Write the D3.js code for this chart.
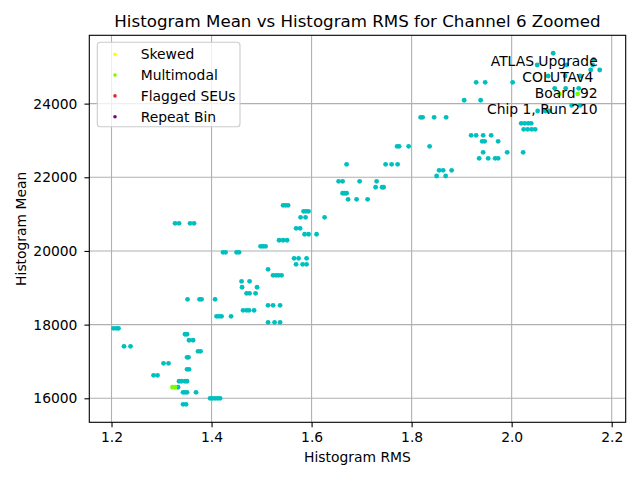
<!DOCTYPE html>
<html>
<head>
<meta charset="utf-8">
<script src="https://cdn.jsdelivr.net/npm/d3@7/dist/d3.min.js"></script>
<style>
  body { margin: 0; background: #fff; }
  svg { display: block; font-family: "DejaVu Sans", sans-serif; }
  .tick text { font-size: 13.89px; fill: #000; }
  .tick line { stroke: #000; stroke-width: 1.1; }
</style>
</head>
<body>
<svg width="640" height="480"></svg>
<script>
"use strict";

const title = "Histogram Mean vs Histogram RMS for Channel 6 Zoomed";
const xAxisLabel = "Histogram RMS";
const yAxisLabel = "Histogram Mean";
const infoLines = ["ATLAS Upgrade", "COLUTAv4\u00a0", "Board 92", "Chip 1, Run 210"];

const xTicks = [1.2, 1.4, 1.6, 1.8, 2.0, 2.2];
const yTicks = [16000, 18000, 20000, 22000, 24000];

const legendLabels = ["Skewed", "Multimodal", "Flagged SEUs", "Repeat Bin"];
const legendColors = ["#ffff00", "#7cfc00", "#e8282c", "#800080"];

// plain (cyan) channels, grouped by histogram mean level
const meanLevels = [
  25367, 25204, 25049, 24913, 24750, 24579, 24416, 24091, 23950, 23800,
  23629, 23466, 23303, 23140, 22977, 22842, 22679, 22516, 22353, 22190,
  22035, 21891, 21729, 21566, 21403, 21240, 21077, 20914, 20751, 20615,
  20453, 20290, 20127, 19964, 19801, 19638, 19502, 19339, 19176, 19014,
  18851, 18688, 18525, 18389, 18226, 18063, 17900, 17738, 17575, 17412,
  17276, 17113, 16950, 16787, 16624, 16462, 16299, 16163, 16000, 15837
];
const rmsByLevel = [
  [2.083], [2.164], [2.051, 2.11, 2.162], [2.158, 2.176], [2.073, 2.107, 2.137],
  [1.929, 1.947, 2.002], [2.086, 2.108, 2.134], [1.905, 1.938], [2.12, 2.137],
  [2.052, 2.067, 2.075],
  [1.818, 1.822, 1.845, 1.869], [2.019, 2.026, 2.033, 2.039],
  [2.024, 2.032, 2.04, 2.047], [1.919, 1.929, 1.943, 1.959], [1.941, 1.946, 1.973],
  [1.771, 1.775, 1.794, 1.836], [1.943, 1.991, 2.023], [1.935, 1.953, 1.967, 1.973],
  [1.67, 1.748, 1.76, 1.772], [1.855, 1.863, 1.88],
  [1.85, 1.868], [1.654, 1.662, 1.696, 1.73], [1.728, 1.741, 1.744],
  [1.662, 1.666, 1.67], [1.673, 1.69, 1.712], [1.543, 1.548, 1.553],
  [1.584, 1.589, 1.594], [1.578, 1.588, 1.626], [1.327, 1.335, 1.357, 1.365],
  [1.569, 1.577],
  [1.586, 1.594, 1.61], [1.535, 1.543, 1.551], [1.498, 1.503, 1.508],
  [1.423, 1.428, 1.45, 1.455], [1.565, 1.574, 1.59], [1.569, 1.582, 1.59],
  [1.513], [1.523, 1.529, 1.534, 1.54], [1.46, 1.476], [1.461, 1.491],
  [1.47, 1.476, 1.488], [1.352, 1.376, 1.38, 1.407], [1.513, 1.523, 1.537],
  [1.463, 1.47, 1.475, 1.485], [1.41, 1.415, 1.42, 1.439], [1.513, 1.526, 1.537],
  [1.204, 1.21, 1.214], [1.347, 1.351], [1.355, 1.363], [1.225, 1.238],
  [1.373, 1.378], [1.351, 1.354], [1.304, 1.314], [1.351, 1.355], [1.284, 1.292],
  [1.335, 1.34, 1.347, 1.351], [1.333], [1.343, 1.347, 1.351, 1.369],
  [1.397, 1.402, 1.407, 1.412, 1.417], [1.343, 1.349]
];

const multimodalRms = [2.095, 2.132, 1.322, 1.327];
const multimodalMean = [24262, 24262, 16299, 16299];

const svg = d3.select("svg");
const width = +svg.attr("width");
const height = +svg.attr("height");

const margin = { top: 35.3, right: 14.3, bottom: 57.7, left: 89.3 };
const innerWidth = width - margin.left - margin.right;
const innerHeight = height - margin.top - margin.bottom;
const fontSize = "13.89px";

const plainPoints = [];
meanLevels.forEach((m, i) => {
  rmsByLevel[i].forEach(r => plainPoints.push({ rms: r, mean: m }));
});
const multiPoints = multimodalRms.map((r, i) => ({ rms: r, mean: multimodalMean[i] }));

const xScale = d3.scaleLinear().domain([1.1556, 2.228]).range([0, innerWidth]);
const yScale = d3.scaleLinear().domain([15348, 25855]).range([innerHeight, 0]);

const g = svg.append("g").attr("transform", `translate(${margin.left},${margin.top})`);

// grid
g.append("g")
  .selectAll("line")
  .data(xTicks)
  .enter()
  .append("line")
  .attr("x1", d => xScale(d))
  .attr("x2", d => xScale(d))
  .attr("y1", 0)
  .attr("y2", innerHeight)
  .attr("stroke", "#b0b0b0")
  .attr("stroke-width", 1.1);

g.append("g")
  .selectAll("line")
  .data(yTicks)
  .enter()
  .append("line")
  .attr("x1", 0)
  .attr("x2", innerWidth)
  .attr("y1", d => yScale(d))
  .attr("y2", d => yScale(d))
  .attr("stroke", "#b0b0b0")
  .attr("stroke-width", 1.1);

const xAxisG = g
  .append("g")
  .attr("transform", `translate(0,${innerHeight})`)
  .call(
    d3.axisBottom(xScale)
      .tickValues(xTicks)
      .tickSize(4.86)
      .tickPadding(5)
      .tickFormat(d3.format(".1f"))
  );
xAxisG.select(".domain").remove();
xAxisG.selectAll(".tick text").attr("font-family", "DejaVu Sans");

const yAxisG = g
  .append("g")
  .call(
    d3.axisLeft(yScale)
      .tickValues(yTicks)
      .tickSize(4.86)
      .tickPadding(7)
      .tickFormat(d3.format("d"))
  );
yAxisG.select(".domain").remove();
yAxisG.selectAll(".tick text").attr("font-family", "DejaVu Sans");

// points
g.append("g")
  .selectAll("circle")
  .data(plainPoints)
  .enter()
  .append("circle")
  .attr("cx", d => xScale(d.rms))
  .attr("cy", d => yScale(d.mean))
  .attr("r", 2.4)
  .attr("fill", "#00bfbf");

g.append("g")
  .selectAll("circle")
  .data(multiPoints)
  .enter()
  .append("circle")
  .attr("cx", d => xScale(d.rms))
  .attr("cy", d => yScale(d.mean))
  .attr("r", 2.4)
  .attr("fill", legendColors[1]);

// frame
g.append("rect")
  .attr("width", innerWidth)
  .attr("height", innerHeight)
  .attr("fill", "none")
  .attr("stroke", "#000")
  .attr("stroke-width", 1.1);

g.append("text")
  .attr("x", innerWidth / 2)
  .attr("y", -8)
  .attr("text-anchor", "middle")
  .attr("font-size", "16.67px")
  .text(title);

g.append("text")
  .attr("x", innerWidth / 2)
  .attr("y", 462 - margin.top)
  .attr("text-anchor", "middle")
  .attr("font-size", fontSize)
  .text(xAxisLabel);

g.append("text")
  .attr("transform", `rotate(-90)`)
  .attr("x", -innerHeight / 2)
  .attr("y", 26 - margin.left)
  .attr("text-anchor", "middle")
  .attr("font-size", fontSize)
  .text(yAxisLabel);

// info text, right aligned
g.append("g")
  .selectAll("text")
  .data(infoLines)
  .enter()
  .append("text")
  .attr("x", 597.7 - margin.left)
  .attr("y", (d, i) => 66 - margin.top + i * 16)
  .attr("text-anchor", "end")
  .attr("font-size", fontSize)
  .text(d => d);

// legend
const legend = svg.append("g").attr("transform", `translate(97.3,42.3)`);

legend
  .append("rect")
  .attr("width", 142.7)
  .attr("height", 84.4)
  .attr("rx", 3)
  .attr("fill", "#fff")
  .attr("fill-opacity", 0.8)
  .attr("stroke", "#cccccc")
  .attr("stroke-width", 1.1);

const items = legend
  .selectAll(".item")
  .data(legendLabels)
  .enter()
  .append("g")
  .attr("class", "item")
  .attr("transform", (d, i) => `translate(0,${12 + i * 20.8})`);

items
  .append("circle")
  .attr("cx", 17.7)
  .attr("r", 1.8)
  .attr("fill", (d, i) => legendColors[i]);

items
  .append("text")
  .attr("x", 43.4)
  .attr("y", 5)
  .attr("font-size", fontSize)
  .text(d => d);
</script>
</body>
</html>
